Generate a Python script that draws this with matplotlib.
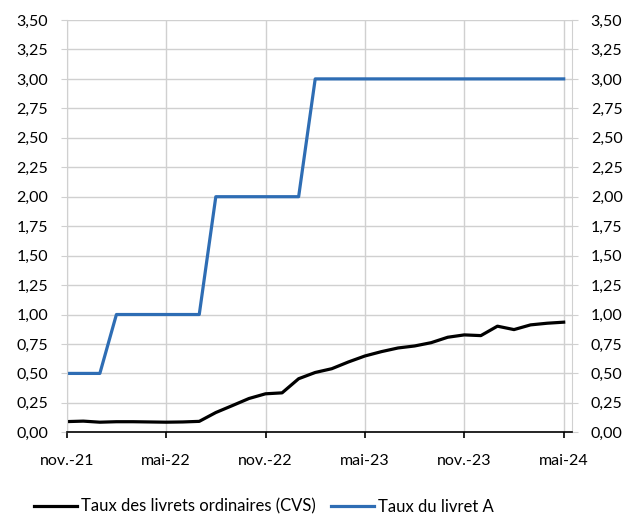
import numpy as np
import matplotlib
matplotlib.use("Agg")
import matplotlib.pyplot as plt

plt.rcParams['font.family'] = ['Lato', 'DejaVu Sans']

# mois de nov.-21 à mai-24
mois = ['nov.-21', 'déc.-21', 'janv.-22', 'févr.-22', 'mars-22', 'avr.-22', 'mai-22',
        'juin-22', 'juil.-22', 'août-22', 'sept.-22', 'oct.-22', 'nov.-22', 'déc.-22',
        'janv.-23', 'févr.-23', 'mars-23', 'avr.-23', 'mai-23', 'juin-23', 'juil.-23',
        'août-23', 'sept.-23', 'oct.-23', 'nov.-23', 'déc.-23', 'janv.-24', 'févr.-24',
        'mars-24', 'avr.-24', 'mai-24']

livrets_ordinaires = [0.091, 0.095, 0.086, 0.090, 0.090, 0.088, 0.086, 0.088, 0.093,
                      0.168, 0.227, 0.287, 0.327, 0.335, 0.455, 0.508, 0.540, 0.597,
                      0.648, 0.685, 0.716, 0.733, 0.761, 0.807, 0.827, 0.821, 0.901,
                      0.872, 0.912, 0.926, 0.935]

livret_a = [0.5, 0.5, 0.5, 1.0, 1.0, 1.0, 1.0, 1.0, 1.0, 2.0, 2.0, 2.0, 2.0, 2.0, 2.0,
            3.0, 3.0, 3.0, 3.0, 3.0, 3.0, 3.0, 3.0, 3.0, 3.0, 3.0, 3.0, 3.0, 3.0, 3.0, 3.0]

x = np.arange(len(mois))

fig = plt.figure(figsize=(6.33, 5.18), dpi=100)
ax = fig.add_axes([0.1054, 0.1654, 0.7982, 0.796])

ax.plot(x, livrets_ordinaires, color='black', lw=2.3, label='Taux des livrets ordinaires (CVS)',
        solid_joinstyle='round')
ax.plot(x, livret_a, color='#2E6DB4', lw=2.3, label='Taux du livret A')

ax.set_xlim(0, 30.5)
ax.set_ylim(0, 3.5)

yt = np.arange(0, 3.51, 0.25)
ax.set_yticks(yt)
ax.set_yticklabels([f"{v:.2f}".replace('.', ',') for v in yt])
ax.set_xticks(x[::6])
ax.set_xticklabels([mois[i] for i in range(0, len(mois), 6)])

ax.grid(True, color='#D0D0D0', lw=1)
ax.set_axisbelow(True)

for s in ['left', 'right']:
    ax.spines[s].set_color('#D0D0D0')
ax.spines['top'].set_visible(False)
ax.spines['bottom'].set_color('black')
ax.spines['bottom'].set_linewidth(1.2)

ax.tick_params(axis='y', which='both', left=True, right=True, labelleft=True, labelright=True,
               color='#D0D0D0', length=4.5, labelsize=11.5, pad=9)
ax.tick_params(axis='x', color='black', length=4.5, width=1.2, labelsize=11.5, pad=11)

ax.legend(loc='center', bbox_to_anchor=(0.417, 0.022), bbox_transform=fig.transFigure,
          ncol=2, frameon=False, fontsize=12, handlelength=2.6, handletextpad=0.25,
          columnspacing=0.9)

fig.savefig('out.png', dpi=100)
